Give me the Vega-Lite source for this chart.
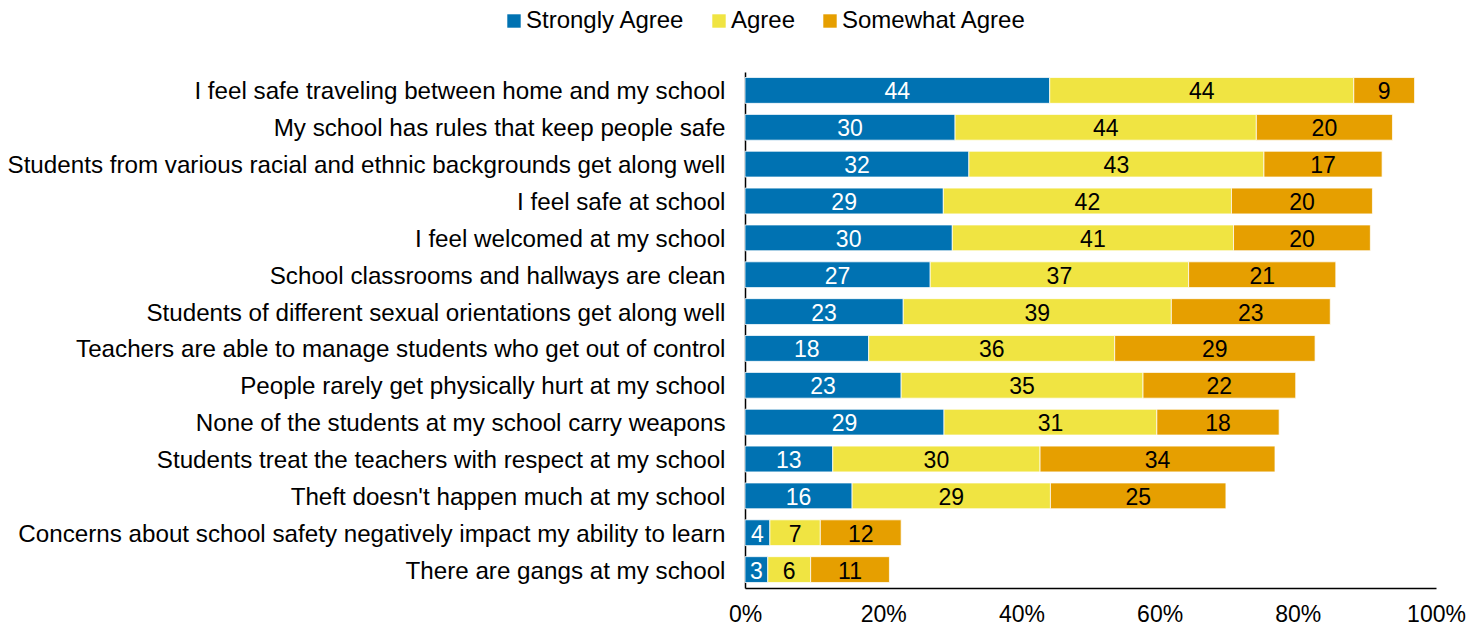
{
  "$schema": "https://vega.github.io/schema/vega-lite/v6.json",
  "width": 691,
  "height": 516,
  "autosize": {"type": "none"},
  "padding": {"left": 745, "top": 72, "right": 47, "bottom": 41},
  "background": "white",
  "config": {
    "font": "Liberation Sans",
    "view": {"stroke": null}
  },
  "data": {
    "values": [
      {"item": "I feel safe traveling between home and my school", "level": "Strongly Agree", "pct": 44.1},
      {"item": "I feel safe traveling between home and my school", "level": "Agree", "pct": 44.0},
      {"item": "I feel safe traveling between home and my school", "level": "Somewhat Agree", "pct": 8.8},
      {"item": "My school has rules that keep people safe", "level": "Strongly Agree", "pct": 30.4},
      {"item": "My school has rules that keep people safe", "level": "Agree", "pct": 43.6},
      {"item": "My school has rules that keep people safe", "level": "Somewhat Agree", "pct": 19.7},
      {"item": "Students from various racial and ethnic backgrounds get along well", "level": "Strongly Agree", "pct": 32.4},
      {"item": "Students from various racial and ethnic backgrounds get along well", "level": "Agree", "pct": 42.7},
      {"item": "Students from various racial and ethnic backgrounds get along well", "level": "Somewhat Agree", "pct": 17.1},
      {"item": "I feel safe at school", "level": "Strongly Agree", "pct": 28.7},
      {"item": "I feel safe at school", "level": "Agree", "pct": 41.7},
      {"item": "I feel safe at school", "level": "Somewhat Agree", "pct": 20.4},
      {"item": "I feel welcomed at my school", "level": "Strongly Agree", "pct": 30.0},
      {"item": "I feel welcomed at my school", "level": "Agree", "pct": 40.7},
      {"item": "I feel welcomed at my school", "level": "Somewhat Agree", "pct": 19.8},
      {"item": "School classrooms and hallways are clean", "level": "Strongly Agree", "pct": 26.8},
      {"item": "School classrooms and hallways are clean", "level": "Agree", "pct": 37.4},
      {"item": "School classrooms and hallways are clean", "level": "Somewhat Agree", "pct": 21.3},
      {"item": "Students of different sexual orientations get along well", "level": "Strongly Agree", "pct": 22.9},
      {"item": "Students of different sexual orientations get along well", "level": "Agree", "pct": 38.8},
      {"item": "Students of different sexual orientations get along well", "level": "Somewhat Agree", "pct": 23.0},
      {"item": "Teachers are able to manage students who get out of control", "level": "Strongly Agree", "pct": 17.9},
      {"item": "Teachers are able to manage students who get out of control", "level": "Agree", "pct": 35.6},
      {"item": "Teachers are able to manage students who get out of control", "level": "Somewhat Agree", "pct": 29.0},
      {"item": "People rarely get physically hurt at my school", "level": "Strongly Agree", "pct": 22.6},
      {"item": "People rarely get physically hurt at my school", "level": "Agree", "pct": 35.0},
      {"item": "People rarely get physically hurt at my school", "level": "Somewhat Agree", "pct": 22.1},
      {"item": "None of the students at my school carry weapons", "level": "Strongly Agree", "pct": 28.8},
      {"item": "None of the students at my school carry weapons", "level": "Agree", "pct": 30.8},
      {"item": "None of the students at my school carry weapons", "level": "Somewhat Agree", "pct": 17.7},
      {"item": "Students treat the teachers with respect at my school", "level": "Strongly Agree", "pct": 12.7},
      {"item": "Students treat the teachers with respect at my school", "level": "Agree", "pct": 30.0},
      {"item": "Students treat the teachers with respect at my school", "level": "Somewhat Agree", "pct": 34.0},
      {"item": "Theft doesn't happen much at my school", "level": "Strongly Agree", "pct": 15.5},
      {"item": "Theft doesn't happen much at my school", "level": "Agree", "pct": 28.7},
      {"item": "Theft doesn't happen much at my school", "level": "Somewhat Agree", "pct": 25.4},
      {"item": "Concerns about school safety negatively impact my ability to learn", "level": "Strongly Agree", "pct": 3.6},
      {"item": "Concerns about school safety negatively impact my ability to learn", "level": "Agree", "pct": 7.3},
      {"item": "Concerns about school safety negatively impact my ability to learn", "level": "Somewhat Agree", "pct": 11.7},
      {"item": "There are gangs at my school", "level": "Strongly Agree", "pct": 3.3},
      {"item": "There are gangs at my school", "level": "Agree", "pct": 6.2},
      {"item": "There are gangs at my school", "level": "Somewhat Agree", "pct": 11.4}
    ]
  },
  "transform": [
    {"calculate": "indexof(['Strongly Agree','Agree','Somewhat Agree'], datum.level)", "as": "ord"}
  ],
  "encoding": {
    "y": {
      "field": "item",
      "type": "nominal",
      "sort": null,
      "scale": {"paddingInner": 0.3, "paddingOuter": 0.15},
      "axis": {
        "title": null,
        "ticks": false,
        "domainColor": "black",
        "domainWidth": 1.5,
        "labelFont": "Liberation Sans",
        "labelFontSize": 24.2,
        "labelColor": "black",
        "labelPadding": 20,
        "labelOffset": 2,
        "labelLimit": 800
      }
    },
    "x": {
      "field": "pct",
      "type": "quantitative",
      "stack": "zero",
      "scale": {"domain": [0, 100], "nice": false},
      "axis": {
        "title": null,
        "ticks": false,
        "grid": false,
        "values": [0, 20, 40, 60, 80, 100],
        "labelExpr": "datum.value + '%'",
        "domainColor": "black",
        "domainWidth": 1.5,
        "labelFont": "Liberation Sans",
        "labelFontSize": 23,
        "labelColor": "black",
        "labelPadding": 15,
        "labelFlush": false
      }
    },
    "order": {"field": "ord", "type": "quantitative"}
  },
  "layer": [
    {
      "mark": {"type": "bar", "stroke": "white", "strokeWidth": 0.75},
      "encoding": {
        "color": {
          "field": "level",
          "type": "nominal",
          "scale": {
            "domain": ["Strongly Agree", "Agree", "Somewhat Agree"],
            "range": ["#0072B2", "#F0E442", "#E69F00"]
          },
          "legend": {
            "title": null,
            "orient": "none",
            "direction": "horizontal",
            "legendX": -243,
            "legendY": -63,
            "symbolType": "square",
            "symbolSize": 180,
            "symbolStrokeWidth": 0,
            "labelFont": "Liberation Sans",
            "labelFontSize": 24,
            "labelColor": "black",
            "labelOffset": 0,
            "labelLimit": 400,
            "columnPadding": 22
          }
        }
      }
    },
    {
      "mark": {"type": "text", "fontSize": 23, "font": "Liberation Sans", "align": "center", "baseline": "middle", "dy": 2},
      "encoding": {
        "x": {"field": "pct", "type": "quantitative", "stack": "zero", "bandPosition": 0.5},
        "text": {"field": "pct", "type": "quantitative", "format": ".0f"},
        "color": {
          "condition": {"test": "datum.level == 'Strongly Agree'", "value": "white"},
          "value": "black"
        }
      }
    }
  ]
}
